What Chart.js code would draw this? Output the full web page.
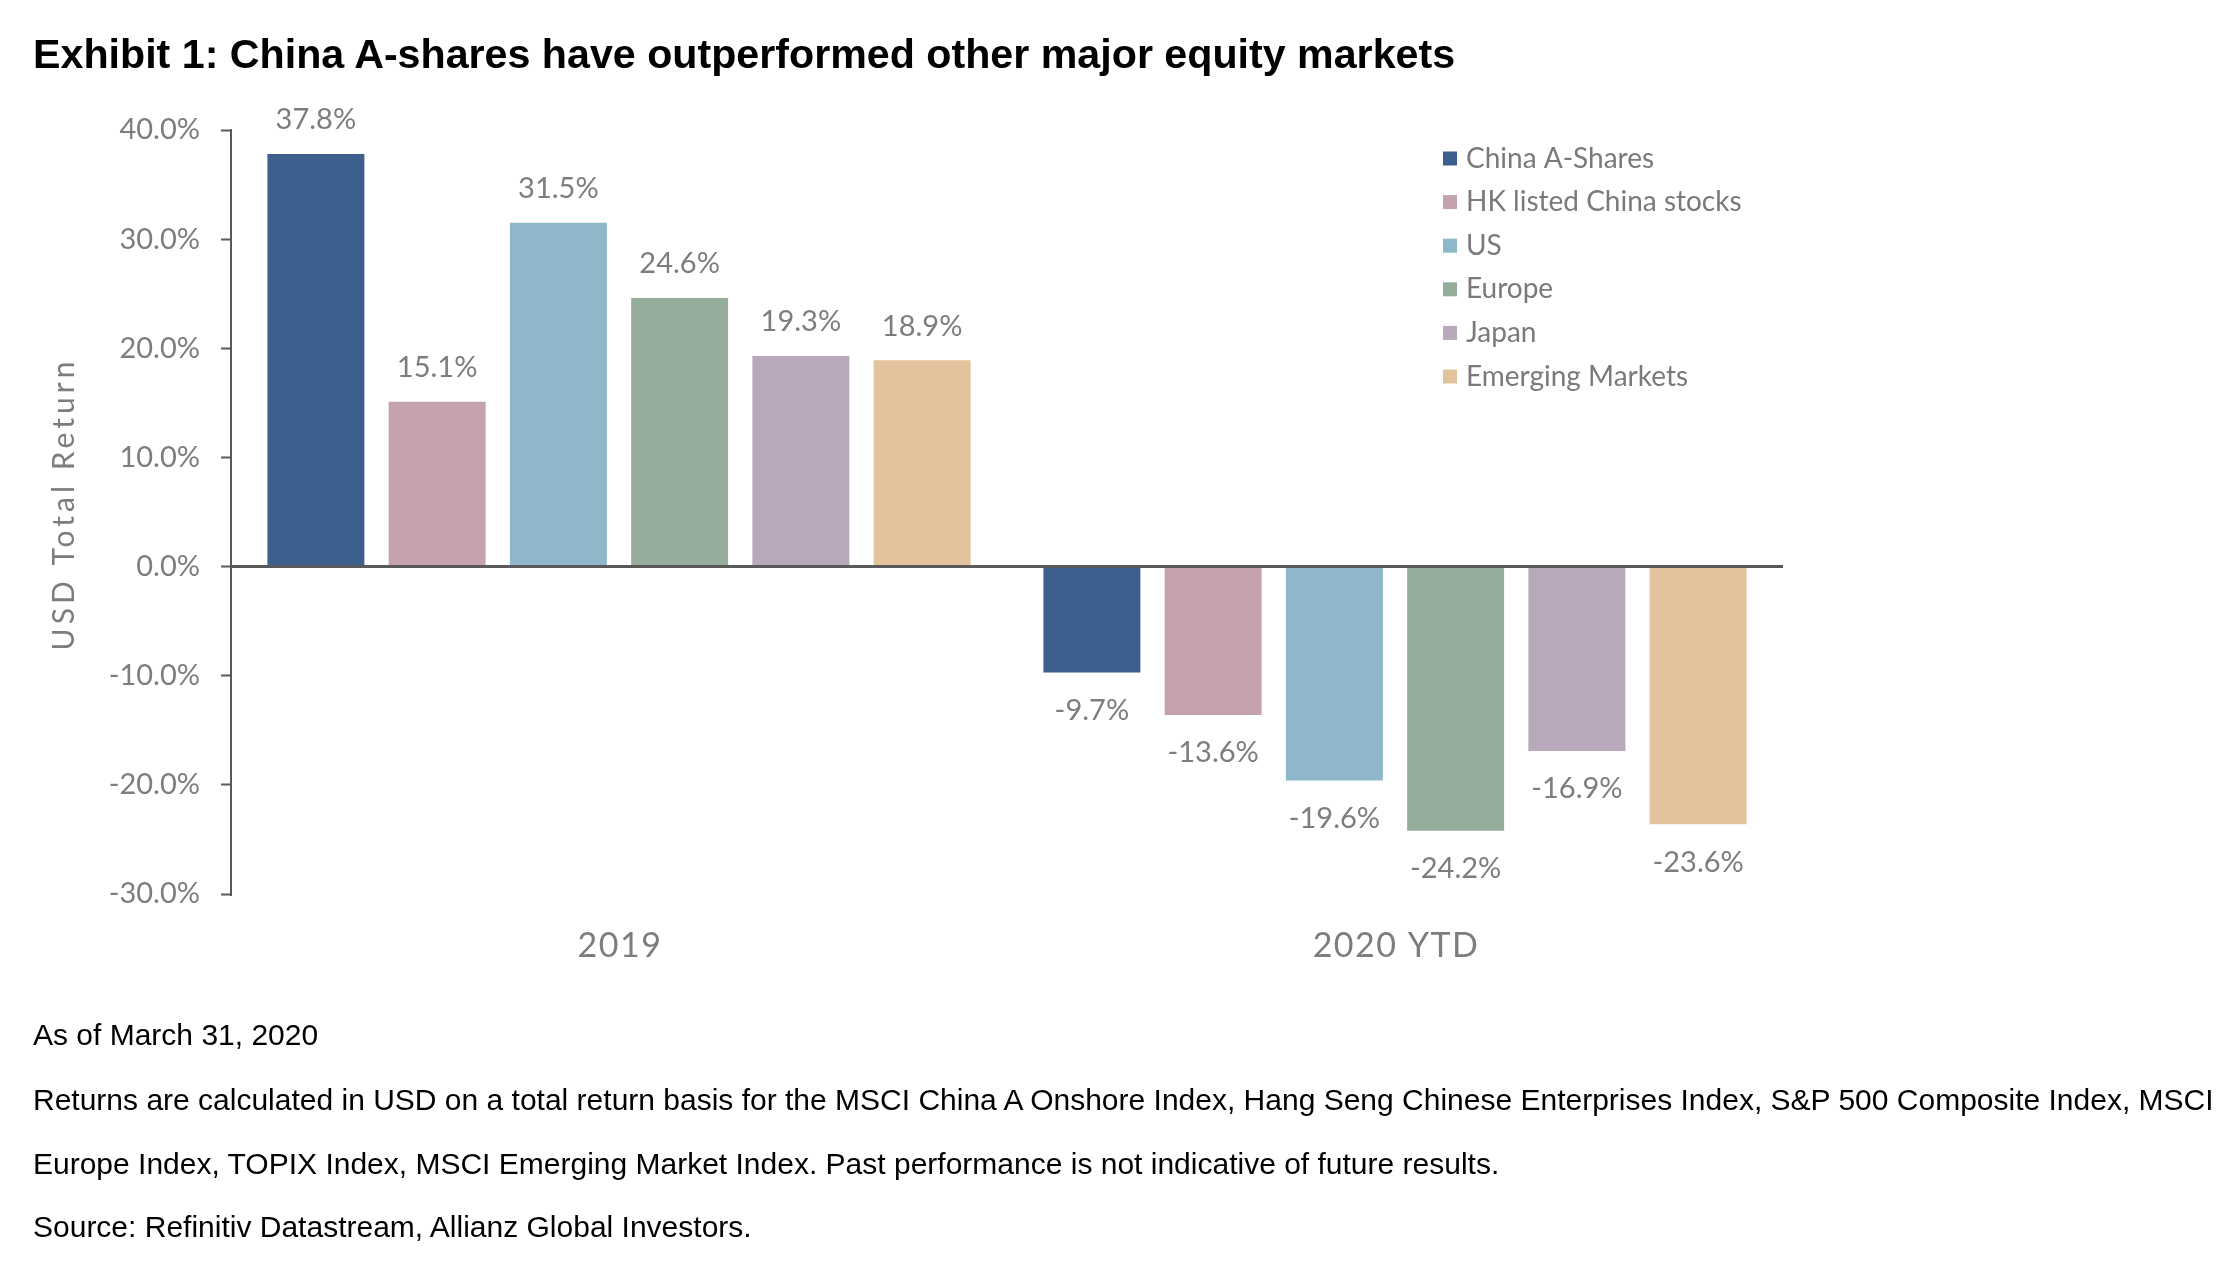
<!DOCTYPE html>
<html><head><meta charset="utf-8">
<script src="https://cdn.jsdelivr.net/npm/chart.js@4.4.1/dist/chart.umd.min.js"></script>
<style>
html,body{margin:0;padding:0;background:#fff;}
#wrap{position:relative;width:2236px;height:1271px;overflow:hidden;background:#fff;}
canvas{position:absolute;left:0;top:0;}
.t{position:absolute;left:33px;font-family:"Liberation Sans",Arial,Helvetica,sans-serif;white-space:nowrap;color:#000;}
#title{top:34px;font-size:41.2px;font-weight:bold;line-height:41px;}
.fn{font-size:30px;line-height:30px;}
</style></head><body>
<div id="wrap">
<canvas id="c" width="2236" height="1271"></canvas>
<div class="t" id="title">Exhibit 1: China A-shares have outperformed other major equity markets</div>
<div class="t fn" style="top:1020px">As of March 31, 2020</div>
<div class="t fn" style="top:1085px">Returns are calculated in USD on a total return basis for the MSCI China A Onshore Index, Hang Seng Chinese Enterprises Index, S&amp;P 500 Composite Index, MSCI</div>
<div class="t fn" style="top:1149px">Europe Index, TOPIX Index, MSCI Emerging Market Index. Past performance is not indicative of future results.</div>
<div class="t fn" style="top:1212px">Source: Refinitiv Datastream, Allianz Global Investors.</div>
</div>
<script>
const categories = ['2019', '2020 YTD'];
const seriesNames = ['China A-Shares', 'HK listed China stocks', 'US', 'Europe', 'Japan', 'Emerging Markets'];
const chinaA = [37.8, -9.7];
const hkChina = [15.1, -13.6];
const us = [31.5, -19.6];
const europe = [24.6, -24.2];
const japan = [19.3, -16.9];
const emerging = [18.9, -23.6];
const yMin = -30, yMax = 40, yStep = 10;
const yTitle = 'USD Total Return';

const colors = ['#3d5f8e', '#c4a2ae', '#8fb7ca', '#97ad9c', '#b9a8bb', '#e2c39b'];
const seriesValues = [chinaA, hkChina, us, europe, japan, emerging];
const greyText = '#7d7d7d';
const axisColor = '#595959';
const FONT = 'Lato, "Open Sans", sans-serif';

const datasets = seriesNames.map((n, i) => ({
  label: n,
  data: seriesValues[i],
  backgroundColor: colors[i],
  borderWidth: 0,
  categoryPercentage: 0.9375,
  barPercentage: 0.8
}));

const dataLabels = {
  id: 'dataLabels',
  afterDatasetsDraw(chart) {
    const ctx = chart.ctx;
    ctx.save();
    ctx.font = '29px ' + FONT;
    ctx.fillStyle = greyText;
    ctx.textAlign = 'center';
    ctx.textBaseline = 'middle';
    chart.data.datasets.forEach((ds, di) => {
      const meta = chart.getDatasetMeta(di);
      meta.data.forEach((el, i) => {
        const v = ds.data[i];
        const y = v >= 0 ? el.y - 34 : el.y + 38;
        ctx.fillText(v.toFixed(1) + '%', el.x, y);
      });
    });
    ctx.restore();
  }
};

const axisText = {
  id: 'axisText',
  afterDraw(chart) {
    const ctx = chart.ctx;
    const xs = chart.scales.x;
    const ca = chart.chartArea;
    ctx.save();
    ctx.fillStyle = greyText;
    ctx.textBaseline = 'middle';
    ctx.textAlign = 'center';
    ctx.font = '34px ' + FONT;
    ctx.letterSpacing = '1.5px';
    chart.data.labels.forEach((lab, i) => {
      ctx.fillText(lab, xs.getPixelForTick(i) + 1, ca.bottom + 52);
    });
    ctx.translate(64, (ca.top + ca.bottom) / 2 - 6);
    ctx.rotate(-Math.PI / 2);
    ctx.font = '30px ' + FONT;
    ctx.letterSpacing = '4px';
    ctx.fillText(yTitle, 2, 0);
    ctx.restore();
  }
};

const customLegend = {
  id: 'customLegend',
  afterDraw(chart) {
    const ctx = chart.ctx;
    ctx.save();
    ctx.font = '28px ' + FONT;
    ctx.textBaseline = 'middle';
    ctx.textAlign = 'left';
    chart.data.datasets.forEach((ds, i) => {
      const y = 158.5 + i * 43.6;
      ctx.fillStyle = ds.backgroundColor;
      ctx.fillRect(1443, y - 7, 14, 14);
      ctx.fillStyle = '#7a7a7a';
      ctx.fillText(ds.label, 1466, y);
    });
    ctx.restore();
  }
};

new Chart(document.getElementById('c'), {
  type: 'bar',
  data: { labels: categories, datasets },
  options: {
    responsive: false,
    animation: false,
    devicePixelRatio: 1,
    layout: { padding: { left: 0, top: 130, right: 453, bottom: 277 } },
    plugins: { legend: { display: false }, tooltip: { enabled: false } },
    scales: {
      x: {
        grid: { display: false },
        border: { display: false },
        ticks: { display: false },
        afterFit(s) { s.height = 100; }
      },
      y: {
        min: yMin, max: yMax,
        ticks: {
          stepSize: yStep,
          color: greyText,
          font: { family: FONT, size: 29 },
          padding: 21,
          callback: v => v.toFixed(1) + '%'
        },
        grid: {
          drawOnChartArea: true,
          drawTicks: true,
          tickLength: 10,
          lineWidth: 3,
          color: c => (c.tick && c.tick.value === 0) ? axisColor : 'rgba(0,0,0,0)',
          tickColor: axisColor,
          tickWidth: 2
        },
        border: { display: true, color: axisColor, width: 2 },
        title: { display: false },
        afterFit(s) { s.width = 231; }
      }
    }
  },
  plugins: [dataLabels, axisText, customLegend]
});
</script>
</body></html>
